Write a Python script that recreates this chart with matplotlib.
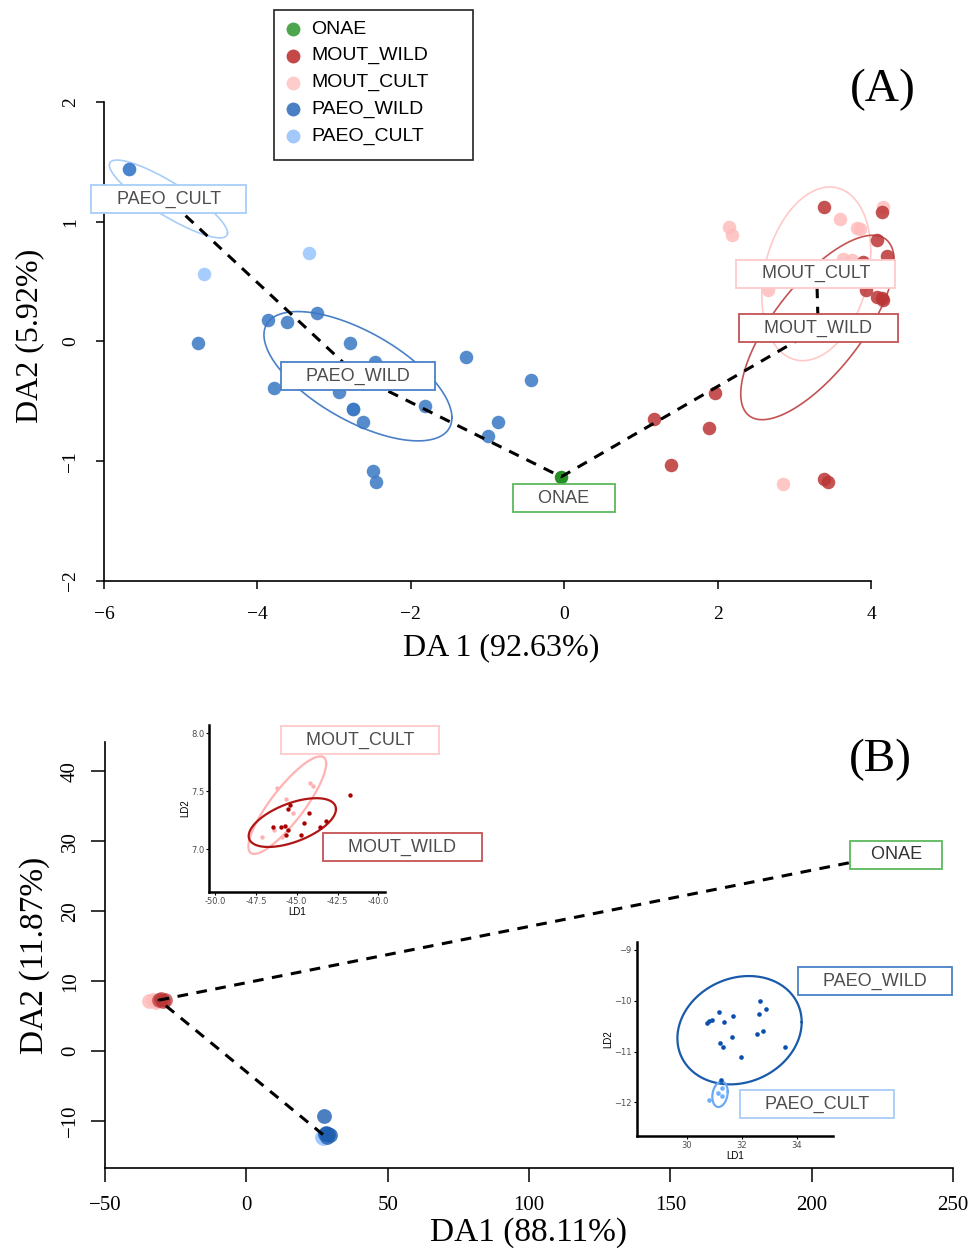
import numpy as np
import matplotlib
matplotlib.use("Agg")
import matplotlib.pyplot as plt
from matplotlib.patches import Rectangle

SERIF = "Liberation Serif"
SANS = "Liberation Sans"

groups = ["ONAE", "MOUT_WILD", "MOUT_CULT", "PAEO_WILD", "PAEO_CULT"]
legend_colors = ["#4da64d", "#c44848", "#ffcccc", "#4a7fc4", "#a3c9fb"]
point_colors = {"ONAE": "#1a8a1a", "MOUT_WILD": "#bb3535", "MOUT_CULT": "#ffbcbc",
                "PAEO_WILD": "#3a78c4", "PAEO_CULT": "#9ec8ff"}
box_colors = {"ONAE": "#5cb85c", "MOUT_WILD": "#c45252", "MOUT_CULT": "#ffc9c9",
              "PAEO_WILD": "#4a80c8", "PAEO_CULT": "#a8cdf8"}

# ---------------- Panel A data ----------------
a_onae_x = [-0.04]
a_onae_y = [-1.13]
a_mw_x = [3.38, 4.14, 4.07, 4.21, 3.90, 3.93, 4.07, 4.14, 4.16, 1.97, 1.17, 1.89, 1.39, 3.38, 3.44]
a_mw_y = [1.12, 1.08, 0.85, 0.71, 0.66, 0.43, 0.37, 0.36, 0.35, -0.43, -0.65, -0.72, -1.03, -1.15, -1.17]
a_mc_x = [2.15, 2.18, 3.60, 3.85, 4.16, 3.63, 3.75, 2.66, 2.85, 3.82]
a_mc_y = [0.96, 0.89, 1.02, 0.94, 1.12, 0.69, 0.68, 0.43, -1.19, 0.95]
a_pw_x = [-4.78, -3.86, -3.62, -3.22, -2.79, -2.47, -3.79, -2.94, -2.76, -2.76, -2.63,
          -1.82, -1.28, -0.44, -0.87, -1.00, -2.49, -2.46, -5.67]
a_pw_y = [-0.01, 0.18, 0.16, 0.24, -0.01, -0.175, -0.39, -0.425, -0.56, -0.56, -0.67,
          -0.54, -0.13, -0.32, -0.675, -0.79, -1.08, -1.17, 1.44]
a_pc_x = [-5.67, -4.70, -3.33]
a_pc_y = [1.44, 0.56, 0.74]

# ellipses: centre x, centre y, half-extent x, half-extent y, correlation
a_ellipses = {
    "PAEO_CULT": (-5.16, 1.19, 0.77, 0.325, -0.87),
    "PAEO_WILD": (-2.69, -0.29, 1.225, 0.54, -0.64),
    "MOUT_CULT": (3.285, 0.565, 0.71, 0.725, 0.25),
    "MOUT_WILD": (3.30, 0.117, 1.0, 0.77, 0.72),
}
a_centroids = {"PAEO_CULT": (-5.12, 1.16), "PAEO_WILD": (-2.69, -0.29), "ONAE": (-0.04, -1.13),
               "MOUT_WILD": (3.31, 0.11), "MOUT_CULT": (3.29, 0.56)}
a_path = ["PAEO_CULT", "PAEO_WILD", "ONAE", "MOUT_WILD", "MOUT_CULT"]
a_labels = {"PAEO_CULT": (-5.16, 1.19), "PAEO_WILD": (-2.69, -0.29), "ONAE": (-0.01, -1.31),
            "MOUT_CULT": (3.28, 0.565), "MOUT_WILD": (3.31, 0.11)}
a_xticks = [-6, -4, -2, 0, 2, 4]
a_yticks = [-2, -1, 0, 1, 2]

# ---------------- Panel B data ----------------
b_mc_x = [-34.5, -33.0, -32.0]
b_mc_y = [7.2, 7.3, 7.1]
b_mw_x = [-31.0, -29.5, -30.2, -28.8]
b_mw_y = [7.3, 7.2, 7.4, 7.3]
b_pw_x = [27.5, 28.3, 29.0, 29.6, 28.6, 28.0]
b_pw_y = [-9.2, -11.7, -11.9, -12.0, -12.2, -11.8]
b_pc_x = [26.8, 27.2]
b_pc_y = [-12.2, -12.4]
b_centroids = {"ONAE": (226.5, 28.0), "MOUT_WILD": (-30.9, 7.3), "PAEO_WILD": (27.2, -11.95)}
b_path = ["ONAE", "MOUT_WILD", "PAEO_WILD"]
b_onae_label = (230.0, 28.1)
b_xticks = [-50, 0, 50, 100, 150, 200, 250]
b_yticks = [-10, 0, 10, 20, 30, 40]

# ---------------- Inset 1 (MOUT) ----------------
i1_mw_x = [-41.76, -44.26, -45.44, -45.56, -46.44, -45.94, -45.70, -45.54, -44.56, -45.64, -44.76, -43.56, -43.20]
i1_mw_y = [7.47, 7.316, 7.38, 7.35, 7.195, 7.19, 7.20, 7.17, 7.23, 7.12, 7.126, 7.195, 7.24]
i1_mc_x = [-46.2, -44.2, -44.0, -45.66, -45.2, -47.1, -46.4, -45.9]
i1_mc_y = [7.53, 7.57, 7.546, 7.43, 7.31, 7.11, 7.17, 7.11]
i1_ellipses = {"MOUT_CULT": (-45.58, 7.38, 2.38, 0.42, 0.85),
               "MOUT_WILD": (-45.27, 7.23, 2.67, 0.21, 0.55)}
i1_labels = {"MOUT_CULT": (-41.13, 7.94), "MOUT_WILD": (-38.55, 7.02)}
i1_xticks = [-50.0, -47.5, -45.0, -42.5, -40.0]
i1_yticks = [7.0, 7.5, 8.0]

# ---------------- Inset 2 (PAEO) ----------------
i2_pw_x = [30.75, 30.82, 30.93, 31.19, 31.36, 31.67, 32.67, 32.88, 32.61, 32.79, 32.55, 31.66, 31.21, 31.33, 31.98, 33.58, 31.25]
i2_pw_y = [-10.43, -10.40, -10.38, -10.23, -10.41, -10.30, -10.0, -10.16, -10.27, -10.59, -10.66, -10.71, -10.83, -10.92, -11.10, -10.92, -11.55]
i2_pc_x = [30.82, 31.12, 31.27, 31.27]
i2_pc_y = [-11.95, -11.81, -11.72, -11.87]
i2_ellipses = {"PAEO_WILD": (31.92, -10.58, 2.26, 1.065, 0.15),
               "PAEO_CULT": (31.21, -11.84, 0.28, 0.25, 0.2)}
i2_labels = {"PAEO_WILD": (36.84, -9.62), "PAEO_CULT": (34.74, -12.04)}
i2_xticks = [30, 32, 34]
i2_yticks = [-12, -11, -10, -9]


def ellipse_xy(cx, cy, sx, sy, rho, n=300):
    t = np.linspace(0, 2 * np.pi, n)
    x = cx + sx * np.cos(t)
    y = cy + sy * (rho * np.cos(t) + np.sqrt(1 - rho ** 2) * np.sin(t))
    return x, y


def box_label(ax, text, xy, edge, fs=13, pad_spaces=4, clip=False, color="#4d4d4d"):
    sp = " " * pad_spaces
    ax.text(xy[0], xy[1], sp + text + sp, ha="center", va="center", fontsize=fs,
            family=SANS, color=color, zorder=6, clip_on=clip,
            bbox=dict(boxstyle="square,pad=0.3", fc="white", ec=edge, lw=1.3))


def fmt(v):
    return ("\u2212" + str(abs(v))) if v < 0 else str(v)


W, H = 970, 1256
fig = plt.figure(figsize=(9.7, 12.56), dpi=100)

# ================= Panel A =================
axA = fig.add_axes([104 / W, 1 - 581 / H, (898 - 104) / W, (581 - 90) / H])
axA.set_xlim(-6, 4.35)
axA.set_ylim(-2, 2.1)
for s in ["top", "right"]:
    axA.spines[s].set_visible(False)
axA.spines["bottom"].set_bounds(-6, 4)
axA.spines["left"].set_bounds(-2, 2)
for s in ["bottom", "left"]:
    axA.spines[s].set_linewidth(1.2)
axA.set_xticks(a_xticks)
axA.set_yticks(a_yticks)
axA.set_xticklabels([fmt(v) for v in a_xticks], family=SERIF, fontsize=14)
axA.set_yticklabels([fmt(v) for v in a_yticks], family=SERIF, fontsize=14, rotation=90, va="center")
axA.tick_params(axis="x", direction="out", length=6, width=1.1, pad=12)
axA.tick_params(axis="y", direction="out", length=6, width=1.1, pad=12)
axA.set_xlabel("DA 1 (92.63%)", family=SERIF, fontsize=23, labelpad=7)
axA.set_ylabel("DA2 (5.92%)", family=SERIF, fontsize=23, labelpad=13)

for g, (cx, cy, sx, sy, rho) in a_ellipses.items():
    ex, ey = ellipse_xy(cx, cy, sx, sy, rho)
    axA.plot(ex, ey, color=box_colors[g], lw=1.2, zorder=2)

ms = 95
axA.scatter(a_mc_x, a_mc_y, s=ms, color=point_colors["MOUT_CULT"], alpha=0.85, lw=0, zorder=3)
axA.scatter(a_pc_x, a_pc_y, s=ms, color=point_colors["PAEO_CULT"], alpha=0.9, lw=0, zorder=3)
axA.scatter(a_mw_x, a_mw_y, s=ms, color=point_colors["MOUT_WILD"], alpha=0.85, lw=0, zorder=3)
axA.scatter(a_pw_x, a_pw_y, s=ms, color=point_colors["PAEO_WILD"], alpha=0.85, lw=0, zorder=3)
axA.scatter(a_onae_x, a_onae_y, s=ms, color=point_colors["ONAE"], alpha=0.95, lw=0, zorder=3)

px = [a_centroids[g][0] for g in a_path]
py = [a_centroids[g][1] for g in a_path]
axA.plot(px, py, color="black", lw=2.2, ls=(0, (3.5, 2.8)), zorder=5)

for g, xy in a_labels.items():
    box_label(axA, g, xy, box_colors[g])

fig.text(883 / W, 1 - 90 / H, "(A)", ha="center", va="center", family=SERIF, fontsize=34)

# legend (drawn in figure pixel space)
fig.patches.append(Rectangle((274 / W, 1 - 160 / H), (473 - 274) / W, 150 / H,
                             transform=fig.transFigure, fill=False, ec="#222222", lw=1.2))
leg_y0, leg_dy = 29, 26.8
for i, (g, c) in enumerate(zip(groups, legend_colors)):
    yy = 1 - (leg_y0 + i * leg_dy) / H
    fig.text(311 / W, yy, g, ha="left", va="center", family=SANS, fontsize=14, color="black")
    fig.lines.append(plt.Line2D([293 / W], [yy], transform=fig.transFigure, marker="o", ls="",
                                markersize=10, markerfacecolor=c, markeredgewidth=0))

# ================= Panel B =================
axB = fig.add_axes([105 / W, 1 - 1168 / H, 848 / W, (1168 - 742) / H])
axB.set_xlim(-50, 250)
axB.set_ylim(-16.7, 44.2)
for s in ["top", "right"]:
    axB.spines[s].set_visible(False)
for s in ["bottom", "left"]:
    axB.spines[s].set_linewidth(1.2)
axB.set_xticks(b_xticks)
axB.set_yticks(b_yticks)
axB.set_xticklabels([fmt(v) for v in b_xticks], family=SERIF, fontsize=15)
axB.set_yticklabels([fmt(v) for v in b_yticks], family=SERIF, fontsize=15, rotation=90, va="center")
axB.tick_params(axis="x", direction="out", length=10, width=1.1, pad=10)
axB.tick_params(axis="y", direction="out", length=10, width=1.1, pad=8)
axB.set_xlabel("DA1 (88.11%)", family=SERIF, fontsize=24, labelpad=2)
axB.set_ylabel("DA2 (11.87%)", family=SERIF, fontsize=24, labelpad=8)

axB.scatter(b_mc_x, b_mc_y, s=ms * 1.2, color=point_colors["MOUT_CULT"], alpha=0.85, lw=0, zorder=3)
axB.scatter(b_mw_x, b_mw_y, s=ms * 1.2, color=point_colors["MOUT_WILD"], alpha=0.7, lw=0, zorder=3)
axB.scatter(b_pc_x, b_pc_y, s=ms * 1.2, color=point_colors["PAEO_CULT"], alpha=0.9, lw=0, zorder=3)
axB.scatter(b_pw_x, b_pw_y, s=ms * 1.2, color="#1f5fb0", alpha=0.8, lw=0, zorder=3)

bx = [b_centroids[g][0] for g in b_path]
by = [b_centroids[g][1] for g in b_path]
axB.plot(bx, by, color="black", lw=2.2, ls=(0, (3.5, 2.8)), zorder=5)
box_label(axB, "ONAE", b_onae_label, box_colors["ONAE"], color="#333333", pad_spaces=3)

fig.text(880 / W, 1 - 760 / H, "(B)", ha="center", va="center", family=SERIF, fontsize=34)


def style_inset(ax, xt, yt):
    for s in ["top", "right"]:
        ax.spines[s].set_visible(False)
    for s in ["bottom", "left"]:
        ax.spines[s].set_linewidth(1.8)
    ax.set_xticks(xt)
    ax.set_yticks(yt)
    ax.tick_params(labelsize=6, labelcolor="#4d4d4d", length=2, width=0.8, pad=1.5)
    ax.set_xlabel("LD1", fontsize=7, family=SANS, labelpad=1)
    ax.set_ylabel("LD2", fontsize=7, family=SANS, labelpad=1)
    ax.patch.set_alpha(0)


# Inset 1
ax1 = fig.add_axes([209.3 / W, 1 - 891.7 / H, 175.7 / W, 166.7 / H])
ax1.set_xlim(-50.35, -39.6)
ax1.set_ylim(6.635, 8.07)
style_inset(ax1, i1_xticks, i1_yticks)
ax1.set_xticklabels(["{:.1f}".format(v) for v in i1_xticks])
ax1.set_yticklabels(["{:.1f}".format(v) for v in i1_yticks])
ec1 = {"MOUT_CULT": "#ffb3b3", "MOUT_WILD": "#b01515"}
for g, (cx, cy, sx, sy, rho) in i1_ellipses.items():
    ex, ey = ellipse_xy(cx, cy, sx, sy, rho)
    ax1.plot(ex, ey, color=ec1[g], lw=1.6, zorder=2)
ax1.scatter(i1_mc_x, i1_mc_y, s=10, color="#ffb0b0", lw=0, zorder=3)
ax1.scatter(i1_mw_x, i1_mw_y, s=10, color="#aa0000", lw=0, zorder=3)
for g, xy in i1_labels.items():
    box_label(ax1, g, xy, box_colors[g])

# Inset 2
ax2 = fig.add_axes([636.7 / W, 1 - 1136 / H, 196.6 / W, 194.3 / H])
ax2.set_xlim(28.18, 35.33)
ax2.set_ylim(-12.66, -8.84)
style_inset(ax2, i2_xticks, i2_yticks)
ax2.set_xticklabels([str(v) for v in i2_xticks])
ax2.set_yticklabels([fmt(v) for v in i2_yticks])
ec2 = {"PAEO_WILD": "#1a5aaa", "PAEO_CULT": "#6aaaf5"}
for g, (cx, cy, sx, sy, rho) in i2_ellipses.items():
    ex, ey = ellipse_xy(cx, cy, sx, sy, rho)
    ax2.plot(ex, ey, color=ec2[g], lw=1.6, zorder=2)
ax2.scatter(i2_pw_x, i2_pw_y, s=11, color="#0a4fae", lw=0, zorder=3)
ax2.scatter(i2_pc_x, i2_pc_y, s=11, color="#6eb0ff", lw=0, zorder=3)
for g, xy in i2_labels.items():
    box_label(ax2, g, xy, box_colors[g])

fig.savefig("out.png", dpi=100)
